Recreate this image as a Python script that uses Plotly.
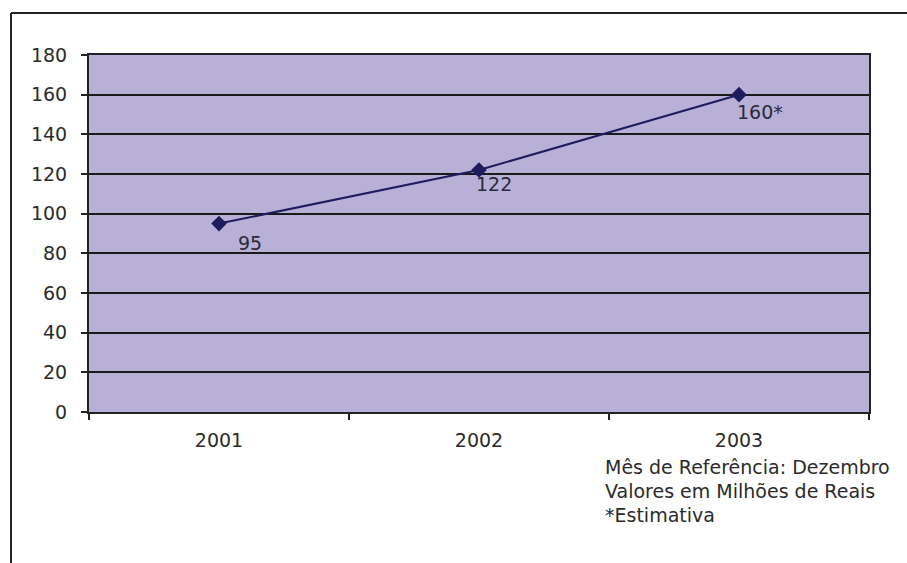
import plotly.graph_objects as go

# ---- data ----
years = ["2001", "2002", "2003"]
values = [95, 122, 160]
point_labels = ["95", "122", "160*"]
y_ticks = [0, 20, 40, 60, 80, 100, 120, 140, 160, 180]
notes = ["Mês de Referência: Dezembro", "Valores em Milhões de Reais", "*Estimativa"]

# ---- style ----
W, H = 907, 563
L, R, T, B = 89, 38, 55, 151
plot_w = W - L - R
plot_h = H - T - B
FONT = "DejaVu Sans"
FS = 19
TXT = "#2b2b2b"
NAVY = "#1c1c5e"
label_shift = [(17, -6), (-5, -1), (-4, -4)]

fig = go.Figure()
fig.add_trace(go.Scatter(
    x=years, y=values, mode="lines+markers",
    line=dict(color=NAVY, width=2),
    marker=dict(symbol="diamond", size=12, color=NAVY),
    hoverinfo="skip", showlegend=False,
))

for i, (yv, lab, (dx, dy)) in enumerate(zip(values, point_labels, label_shift)):
    fig.add_annotation(x=i, y=yv, text=lab, showarrow=False,
                       xanchor="left", yanchor="top", xshift=dx, yshift=dy,
                       font=dict(family=FONT, size=FS, color="#2a2a3a"))

# notes (bottom right)
for i, t in enumerate(notes):
    fig.add_annotation(x=(603 - L) / plot_w, y=-(467 - (T + plot_h)) / plot_h - i * 24 / plot_h,
                       xref="paper", yref="paper", text=t, showarrow=False,
                       xanchor="left", yanchor="middle",
                       font=dict(family=FONT, size=FS, color=TXT))

# outer frame (left and top edges visible)
x0 = (11 - L) / plot_w
y0 = (T + plot_h - 13) / plot_h
fig.add_shape(type="line", xref="paper", yref="paper", x0=x0, x1=x0, y0=y0, y1=-(H - T - plot_h + 5) / plot_h,
              line=dict(color="#222222", width=2))
fig.add_shape(type="line", xref="paper", yref="paper", x0=x0, x1=(W + 5 - L) / plot_w, y0=y0, y1=y0,
              line=dict(color="#222222", width=2))

fig.update_layout(
    width=W, height=H,
    margin=dict(l=L, r=R, t=T, b=B),
    paper_bgcolor="white",
    plot_bgcolor="#b8b0d6",
    font=dict(family=FONT, size=FS, color=TXT),
    xaxis=dict(
        type="category", tickson="boundaries", ticks="outside", ticklen=6,
        tickcolor="#222", tickwidth=2, showgrid=False,
        showline=True, linecolor="#222", linewidth=2, mirror=True,
        ticklabelstandoff=10, tickfont=dict(family=FONT, size=FS, color=TXT),
        range=[-0.5, 2.5],
    ),
    yaxis=dict(
        range=[0, 180], tickvals=y_ticks, ticks="outside", ticklen=6,
        tickcolor="#222", tickwidth=2,
        showgrid=True, gridcolor="#1a1a1a", gridwidth=2,
        showline=True, linecolor="#222", linewidth=2, mirror=True,
        zeroline=False, ticklabelstandoff=10,
        tickfont=dict(family=FONT, size=FS, color=TXT),
    ),
)

fig.write_html("out.html", config={"displayModeBar": False},
               post_script="document.body.style.margin='0';document.body.style.overflow='hidden';")
